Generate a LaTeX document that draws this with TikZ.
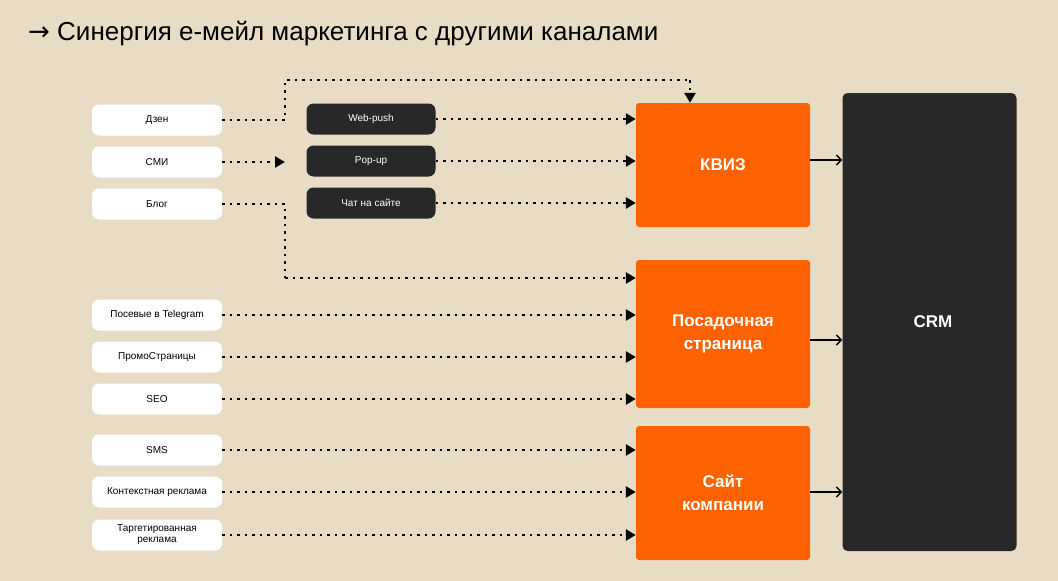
\documentclass[tikz,border=0pt]{standalone}
\usepackage{fontspec}
\setmainfont{Liberation Sans}
\newfontfamily\symfont{DejaVu Sans}
\usetikzlibrary{arrows.meta}
\definecolor{custcol_bg}{RGB}{233, 220, 196}
\definecolor{custcol_dark}{RGB}{40, 40, 40}
\definecolor{custcol_orange}{RGB}{255, 98, 0}
\tikzset{
	srcbox/.style={fill=white, rounded corners=7pt, minimum width=130pt, minimum height=31pt, inner sep=0, font=\fontsize{10pt}{11pt}\selectfont, align=center},
	toolbox/.style={fill=custcol_dark, text=white, rounded corners=7pt, minimum width=129pt, minimum height=31pt, inner sep=0, font=\fontsize{10pt}{11pt}\selectfont},
	goalbox/.style={fill=custcol_orange, text=white, rounded corners=3pt, minimum width=174pt, inner sep=0, font=\bfseries\fontsize{17pt}{23pt}\selectfont, align=center},
	dotline/.style={line width=2.5pt, dash pattern=on 2.5pt off 5pt, -{Triangle[length=10pt,width=11pt]}},
	dotplain/.style={line width=2.5pt, dash pattern=on 2.5pt off 5pt},
	solidarrow/.style={line width=1.3pt, -{Straight Barb[length=5pt,width=10pt]}}
}
\begin{document}
\begin{tikzpicture}[x=1pt,y=-1pt]
	\fill [custcol_bg] (0,0) rectangle (1058,581);
	\node [anchor=west, inner sep=0, font=\fontsize{26pt}{30pt}\selectfont] (title) at (28,34) {{\symfont →} Синергия е-мейл маркетинга с другими каналами};
	% sources
	\node [srcbox] (dzen) at (157,120) {Дзен};
	\node [srcbox] (smi) at (157,162) {СМИ};
	\node [srcbox] (blog) at (157,204) {Блог};
	\node [srcbox] (tg) at (157,315) {Посевые в Telegram};
	\node [srcbox] (promo) at (157,357) {ПромоСтраницы};
	\node [srcbox] (seo) at (157,399) {SEO};
	\node [srcbox] (sms) at (157,450) {SMS};
	\node [srcbox] (ctx) at (157,492) {Контекстная реклама};
	\node [srcbox] (target) at (157,535) {Таргетированная\\реклама};
	% tools
	\node [toolbox] (push) at (371,119) {Web-push};
	\node [toolbox] (popup) at (371,161) {Pop-up};
	\node [toolbox] (chat) at (371,203) {Чат на сайте};
	% goals
	\node [goalbox, minimum height=124pt] (quiz) at (723,165) {КВИЗ};
	\node [goalbox, minimum height=148pt] (landing) at (723,334) {Посадочная\\страница};
	\node [goalbox, minimum height=134pt] (site) at (723,493) {Сайт\\компании};
	\node [fill=custcol_dark, text=white, rounded corners=5pt, minimum width=174pt, minimum height=458pt, inner sep=0, font=\bfseries\fontsize{17pt}{22pt}\selectfont] (crm) at (929.5,322) {};
	\node [text=white, font=\bfseries\fontsize{17pt}{22pt}\selectfont] (crmlabel) at (933,322) {CRM};
	% dotted links
	\coordinate (dzenturn) at (285,120);
	\draw [dotplain] (dzen.east) -- (dzenturn) -- (285,80) -- (690,80);
	\draw [dotline] (690,80) -- (quiz.north -| 690,0);
	\draw [dotline] (smi.east) -- (285,162);
	\draw [dotline] (push.east) -- (quiz.west |- push);
	\draw [dotline] (popup.east) -- (quiz.west |- popup);
	\draw [dotline] (chat.east) -- (quiz.west |- chat);
	\draw [dotplain] (blog.east) -- (285,204) -- (285,278);
	\draw [dotline] (285,278) -- (landing.west |- 0,278);
	\draw [dotline] (tg.east) -- (landing.west |- tg);
	\draw [dotline] (promo.east) -- (landing.west |- promo);
	\draw [dotline] (seo.east) -- (landing.west |- seo);
	\draw [dotline] (sms.east) -- (site.west |- sms);
	\draw [dotline] (ctx.east) -- (site.west |- ctx);
	\draw [dotline] (target.east) -- (site.west |- target);
	% to CRM
	\draw [solidarrow] (quiz.east |- 0,160) -- (crm.west |- 0,160);
	\draw [solidarrow] (landing.east |- 0,340) -- (crm.west |- 0,340);
	\draw [solidarrow] (site.east |- 0,492) -- (crm.west |- 0,492);
\end{tikzpicture}
\end{document}
